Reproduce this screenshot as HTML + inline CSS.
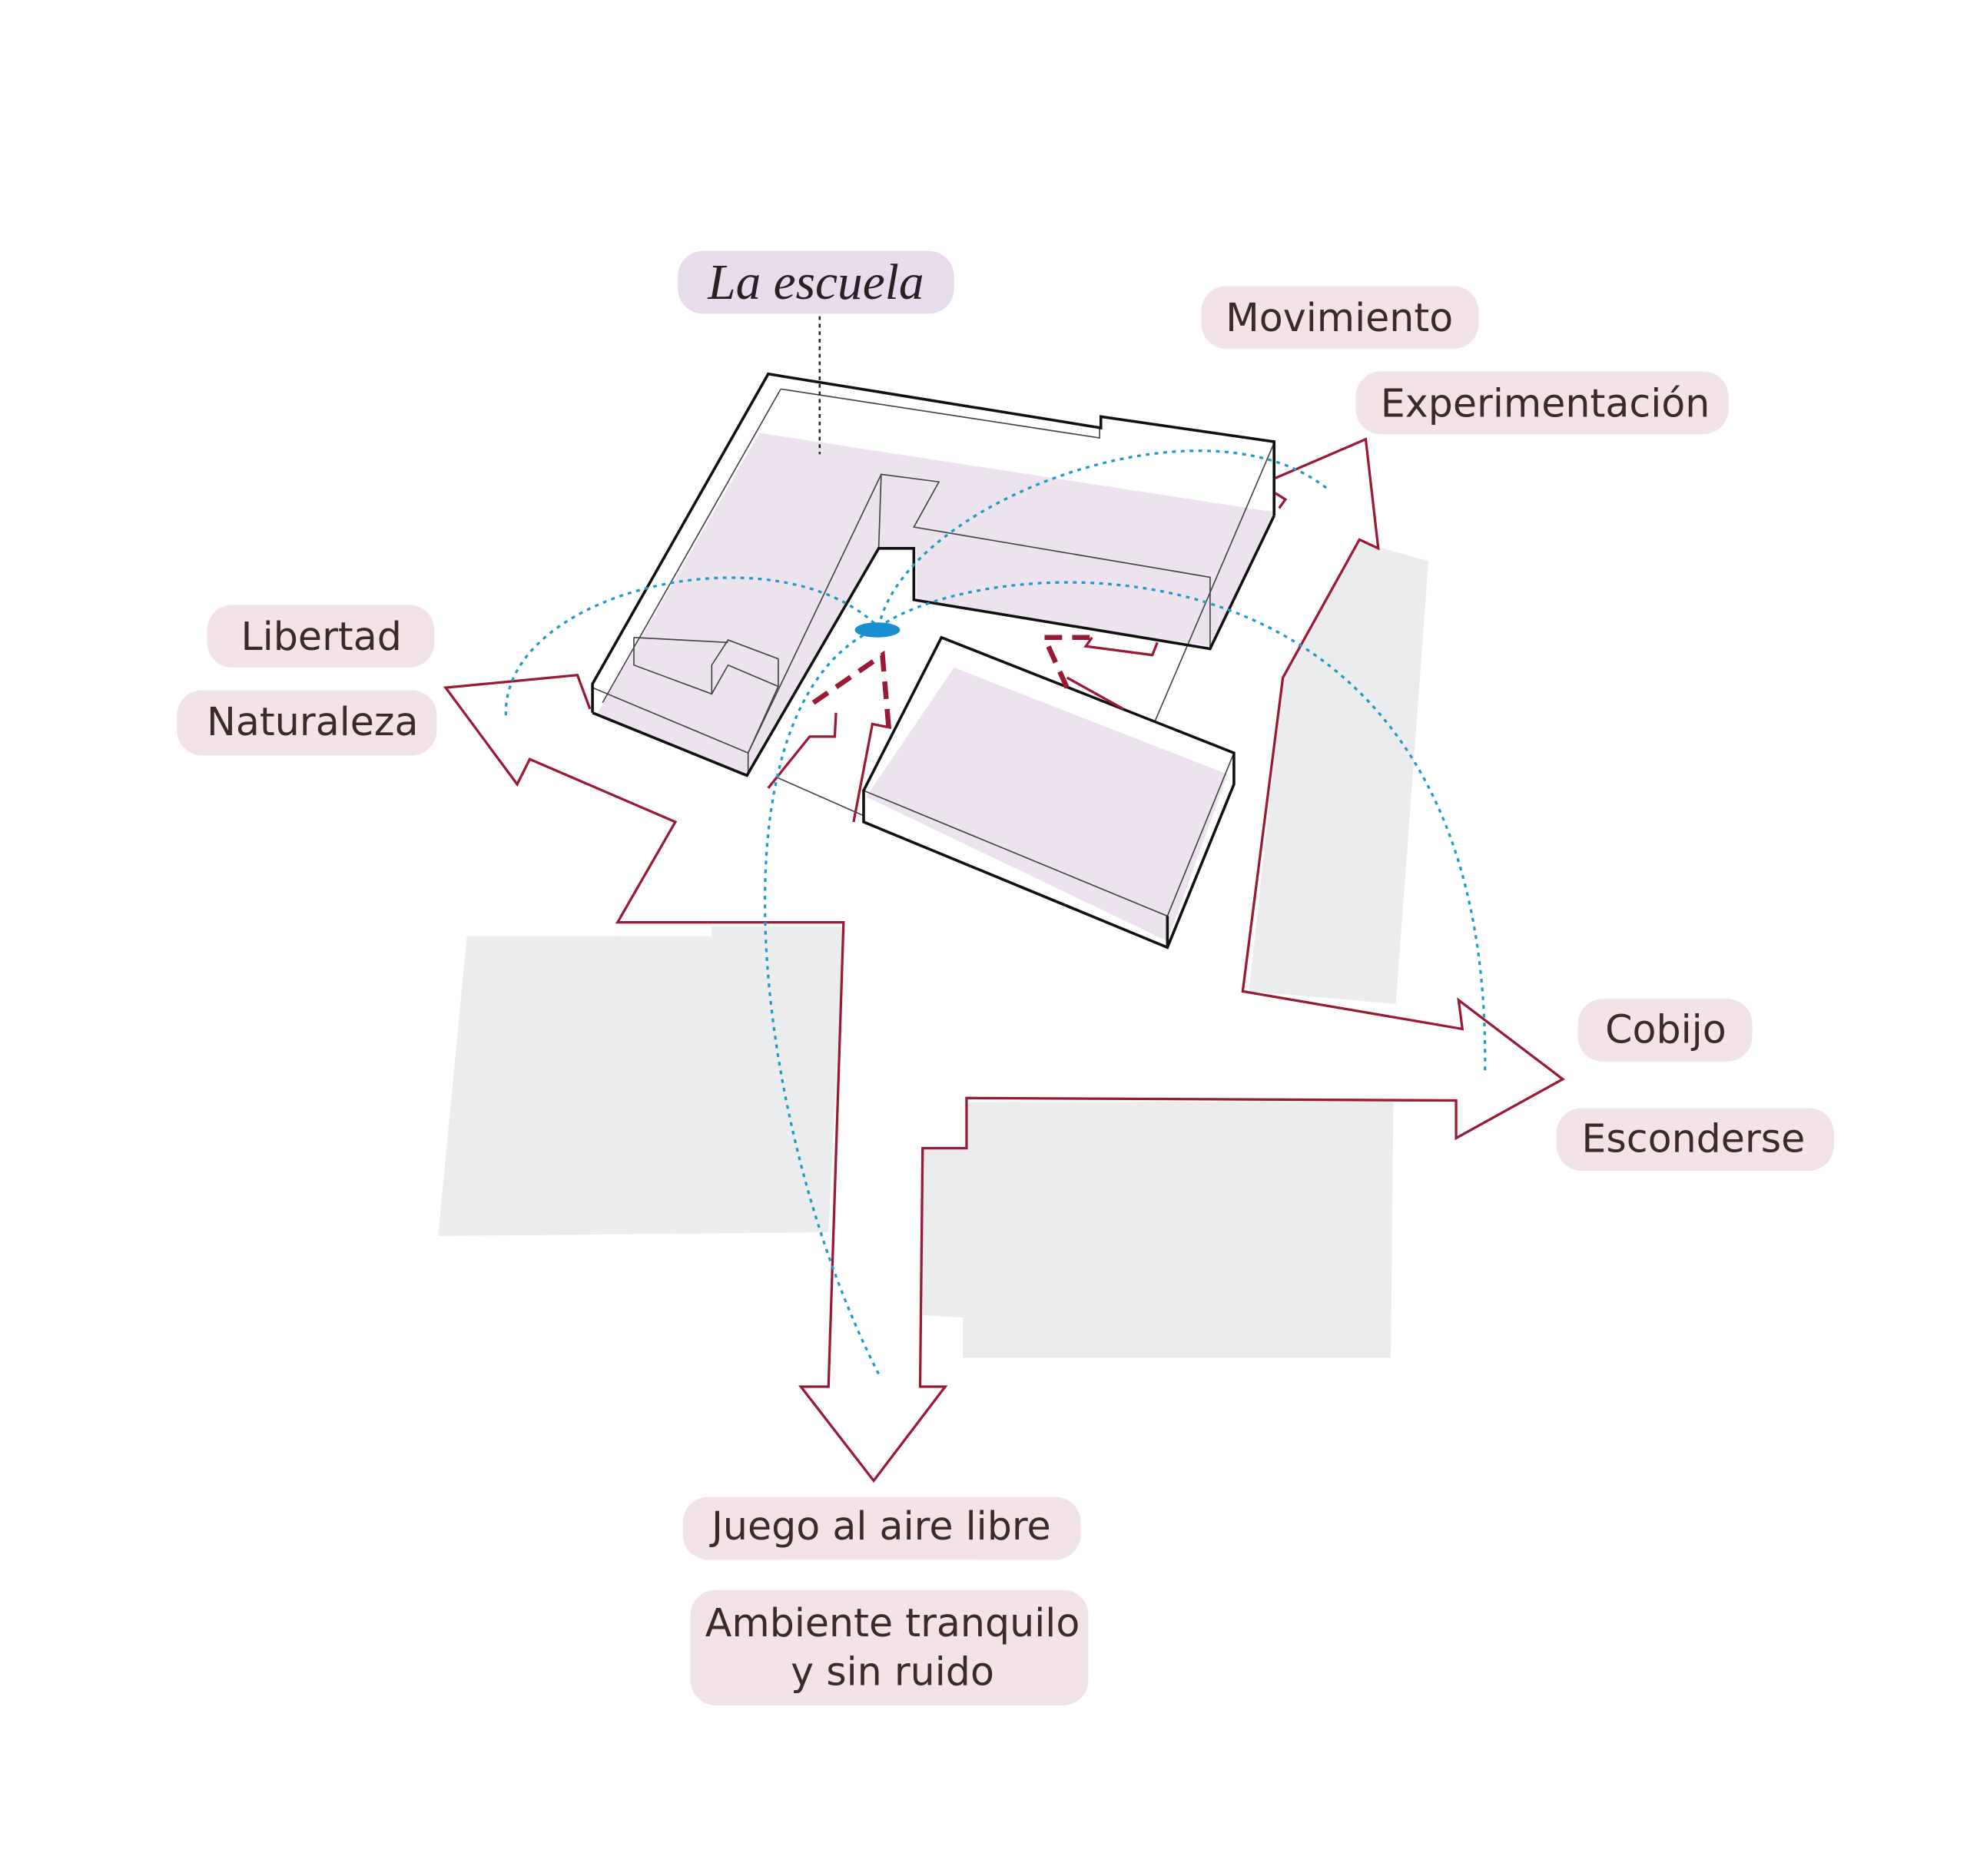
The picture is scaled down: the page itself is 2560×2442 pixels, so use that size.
<!DOCTYPE html>
<html><head><meta charset="utf-8"><style>
html,body{margin:0;padding:0;background:#fff;}
svg{display:block;}
.lbl{font-family:"DejaVu Sans","Liberation Sans",sans-serif;font-size:31px;fill:#3a2a2c;}
</style></head><body>
<svg width="2560" height="2442" viewBox="0 0 1567 1495" preserveAspectRatio="none" xmlns="http://www.w3.org/2000/svg">
<rect width="1567" height="1495" fill="#fff"/>
<!-- gray grounds -->
<polygon points="372,746 567,746 567,738 672,738 660,982 349,985" fill="#ebecee"/>
<polygon points="770,878 1110,878 1108,1082 767,1082 767,1050 735,1048 735,915 770,915" fill="#ebecee"/>
<polygon points="1083,432 1138,447 1112,800 995,790 1022,540" fill="#ebecee"/>
<!-- pink fills -->
<polygon points="605,345 1015,408 964,515 730,480 730,437 700,437 595,617 475,570" fill="#ece3ee"/>
<polygon points="760,532 978,617 930,750 690,635" fill="#ece3ee"/>
<!-- building thin lines -->
<g fill="none" stroke="#444" stroke-width="1">
<polyline points="622,310 876,349 876,341"/>
<polyline points="622,310 480,560"/>
<polyline points="1015,353 920,575"/>
<polyline points="700,437 702,378 748,384 728,420 964,460 964,517"/>
<polyline points="702,378 596,600 596,618"/>
<polyline points="505,508 505,530 567,553 567,530 580,510 620,525 620,547 580,530 567,553"/>
<polyline points="505,508 580,512"/>
<polyline points="620,547 596,600 472,548"/>
<polyline points="620,620 688,650"/>
<polyline points="983,600 930,730 688,630"/>
</g>
<!-- building thick lines -->
<g fill="none" stroke="#111" stroke-width="2.2">
<polyline points="472,568 472,545 612,298 877,341 877,332 1015,352 1015,411"/>
<polyline points="472,568 595,618 700,437 728,437 728,478 964,517 1015,411"/>
<polygon points="750,508 983,600 983,625 930,755 688,655 688,630"/>
<line x1="930" y1="730" x2="930" y2="755"/>
</g>
<!-- red arrows -->
<g fill="none" stroke="#9a1a35" stroke-width="2">
<polyline points="470,565 460,538 355,548 412,625 422,605 538,655 492,735 672,735 660,1105 638,1105 696,1180 753,1105 733,1105 735,915 770,915 770,875 1160,877 1160,907 1245,860 1162,797 1165,820 990,790 1022,540 1083,430 1098,437 1088,350 1016,381"/>
<polyline points="1016,393 1024,398 1019,405"/>
<polyline points="612,628 645,587 665,587 666,568"/>
<polyline points="680,655 695,577 710,580"/>
<polyline points="870,508 865,515 918,522 922,512"/>
<polyline points="850,540 895,565"/>
</g>
<g fill="none" stroke="#9a1a35" stroke-width="4" stroke-dasharray="14,8">
<polyline points="648,560 703,522 708,580"/>
<polyline points="850,548 832,508 870,508"/>
</g>
<!-- blue dotted arcs -->
<g fill="none" stroke="#1f9ac9" stroke-width="2" stroke-dasharray="3,4">
<path d="M403,570 C400,470 620,420 700,500"/>
<path d="M700,500 C720,400 960,310 1058,390"/>
<path d="M700,500 C780,440 1190,400 1183,855"/>
<path d="M700,500 C560,560 600,900 700,1095"/>
</g>
<ellipse cx="699" cy="502" rx="18" ry="6" fill="#1a8fd0"/>
<line x1="653" y1="252" x2="653" y2="362" stroke="#222" stroke-width="1.5" stroke-dasharray="3,3"/>
<!-- labels -->
<rect x="540" y="200" width="220" height="50" rx="20" fill="#e6dcec"/>
<text x="650" y="238" text-anchor="middle" font-family="Liberation Serif,serif" font-style="italic" font-size="40" fill="#2a1f22">La escuela</text>
<g fill="#f2e4e6">
<rect x="957" y="228" width="221" height="50" rx="20"/>
<rect x="1080" y="296" width="297" height="50" rx="20"/>
<rect x="165" y="482" width="181" height="50" rx="20"/>
<rect x="141" y="550" width="207" height="52" rx="20"/>
<rect x="1257" y="796" width="139" height="50" rx="20"/>
<rect x="1240" y="883" width="221" height="50" rx="20"/>
<rect x="544" y="1193" width="317" height="50" rx="20"/>
<rect x="550" y="1267" width="317" height="92" rx="20"/>
</g>
<text class="lbl" x="1067" y="264" text-anchor="middle">Movimiento</text>
<text class="lbl" x="1231" y="332" text-anchor="middle">Experimentación</text>
<text class="lbl" x="256" y="518" text-anchor="middle">Libertad</text>
<text class="lbl" x="249" y="586" text-anchor="middle">Naturaleza</text>
<text class="lbl" x="1327" y="831" text-anchor="middle">Cobijo</text>
<text class="lbl" x="1349" y="918" text-anchor="middle">Esconderse</text>
<text class="lbl" x="702" y="1227" text-anchor="middle">Juego al aire libre</text>
<text class="lbl" x="711" y="1304" text-anchor="middle">Ambiente tranquilo</text>
<text class="lbl" x="711" y="1343" text-anchor="middle">y sin ruido</text>
</svg>
</body></html>
